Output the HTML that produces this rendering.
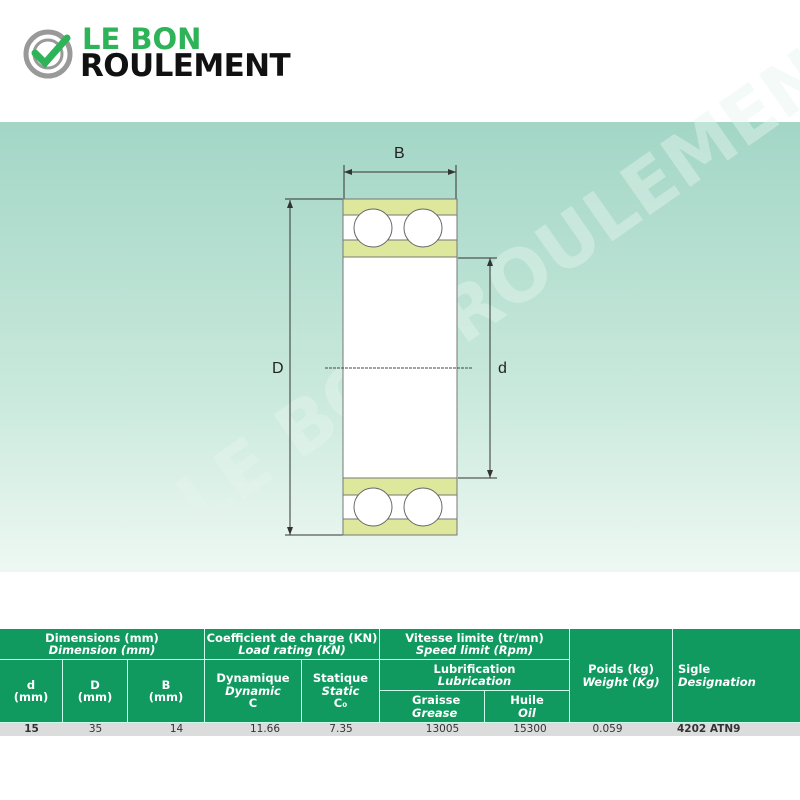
<!DOCTYPE html>
<html><head><style>
body{margin:0;width:800px;height:800px;position:relative;background:#fff;font-family:"DejaVu Sans","Liberation Sans",sans-serif;overflow:hidden}
.band{position:absolute;left:0;top:122px;width:800px;height:450px;background:linear-gradient(#a3d6c6,#c9e9dc 60%,#eef8f3)}
.c{position:absolute;background:#119a5f;color:#fff;font-weight:bold;font-size:11.5px;line-height:12.5px;text-align:center;display:flex;flex-direction:column;justify-content:center;box-sizing:border-box;border-right:1px solid #cfe;border-bottom:1px solid #cfe}
.c i{font-style:italic}
.d{position:absolute;top:723px;height:13px;font-size:10.5px;line-height:13px;color:#333;text-align:center}
</style></head><body>
<svg style="position:absolute;left:22px;top:28px" width="52" height="52" viewBox="0 0 52 52">
<circle cx="26" cy="26" r="22" fill="none" stroke="#999" stroke-width="5"/>
<circle cx="26" cy="26" r="14" fill="none" stroke="#999" stroke-width="3"/>
<path d="M13 25 L23 35 L45 10" fill="none" stroke="#2eb358" stroke-width="7" stroke-linecap="round"/>
</svg>
<div style="position:absolute;left:82px;top:25px;font-size:29px;font-weight:bold;color:#2eb358;line-height:28px">LE BON</div>
<div style="position:absolute;left:80px;top:51px;font-size:31px;font-weight:bold;color:#111;line-height:30px;letter-spacing:-0.6px">ROULEMENT</div>
<div class="band"></div>
<svg style="position:absolute;left:0;top:0" width="800" height="620">
<text x="200" y="530" transform="rotate(-35 200 530)" font-size="72" font-weight="bold" fill="#e6f5ee" opacity="0.45">LE BON ROULEMENT</text>
<g stroke="#333" stroke-width="1" fill="none">
<line x1="344" y1="172" x2="456" y2="172"/><line x1="344" y1="165" x2="344" y2="200"/><line x1="456" y1="165" x2="456" y2="200"/>
<line x1="290" y1="200" x2="290" y2="535"/><line x1="285" y1="199" x2="343" y2="199"/><line x1="285" y1="535" x2="343" y2="535"/>
<line x1="490" y1="258" x2="490" y2="478"/><line x1="458" y1="258" x2="497" y2="258"/><line x1="458" y1="478" x2="497" y2="478"/>
</g>
<g fill="#333"><path d="M344 172l8-3v6z"/><path d="M456 172l-8-3v6z"/><path d="M290 200l-3 8h6z"/><path d="M290 535l-3-8h6z"/><path d="M490 258l-3 8h6z"/><path d="M490 478l-3-8h6z"/></g>
<rect x="343" y="199" width="114" height="336" fill="#fff" stroke="#777"/>
<rect x="343" y="199" width="114" height="16" fill="#dde89c" stroke="#777"/>
<rect x="343" y="240" width="114" height="17" fill="#dde89c" stroke="#777"/>
<rect x="343" y="478" width="114" height="17" fill="#dde89c" stroke="#777"/>
<rect x="343" y="519" width="114" height="16" fill="#dde89c" stroke="#777"/>
<g fill="#fff" stroke="#666"><circle cx="373" cy="228" r="19"/><circle cx="423" cy="228" r="19"/><circle cx="373" cy="507" r="19"/><circle cx="423" cy="507" r="19"/></g>
<line x1="325" y1="368" x2="472" y2="368" stroke="#444" stroke-dasharray="3,1"/>
<g font-family="Liberation Sans" font-size="16" fill="#222"><text x="394" y="158">B</text><text x="272" y="373">D</text><text x="498" y="373">d</text></g>
</svg>
<div class="c" style="left:0;top:629px;width:205px;height:31px">Dimensions (mm)<i>Dimension (mm)</i></div>
<div class="c" style="left:205px;top:629px;width:175px;height:31px">Coefficient de charge (KN)<i>Load rating (KN)</i></div>
<div class="c" style="left:380px;top:629px;width:190px;height:31px">Vitesse limite (tr/mn)<i>Speed limit (Rpm)</i></div>
<div class="c" style="left:570px;top:629px;width:103px;height:94px">Poids (kg)<i>Weight (Kg)</i></div>
<div class="c" style="left:673px;top:629px;width:127px;height:94px;text-align:left;padding-left:5px;border-right:0">Sigle<i>Designation</i></div>
<div class="c" style="left:0;top:660px;width:63px;height:63px">d<br>(mm)</div>
<div class="c" style="left:63px;top:660px;width:65px;height:63px">D<br>(mm)</div>
<div class="c" style="left:128px;top:660px;width:77px;height:63px">B<br>(mm)</div>
<div class="c" style="left:205px;top:660px;width:97px;height:63px">Dynamique<i>Dynamic</i>C</div>
<div class="c" style="left:302px;top:660px;width:78px;height:63px">Statique<i>Static</i>C₀</div>
<div class="c" style="left:380px;top:660px;width:190px;height:31px">Lubrification<i>Lubrication</i></div>
<div class="c" style="left:380px;top:691px;width:105px;height:32px;text-align:left;padding-left:32px">Graisse<i>Grease</i></div>
<div class="c" style="left:485px;top:691px;width:85px;height:32px">Huile<i>Oil</i></div>
<div style="position:absolute;left:0;top:723px;width:800px;height:13px;background:#dcdcdc"></div>
<div class="d" style="left:0;width:63px;font-weight:bold">15</div>
<div class="d" style="left:63px;width:65px">35</div>
<div class="d" style="left:128px;width:97px">14</div>
<div class="d" style="left:205px;width:120px">11.66</div>
<div class="d" style="left:302px;width:78px">7.35</div>
<div class="d" style="left:380px;width:125px">13005</div>
<div class="d" style="left:485px;width:90px">15300</div>
<div class="d" style="left:570px;width:75px">0.059</div>
<div class="d" style="left:677px;font-weight:bold;text-align:left">4202 ATN9</div>
</body></html>
